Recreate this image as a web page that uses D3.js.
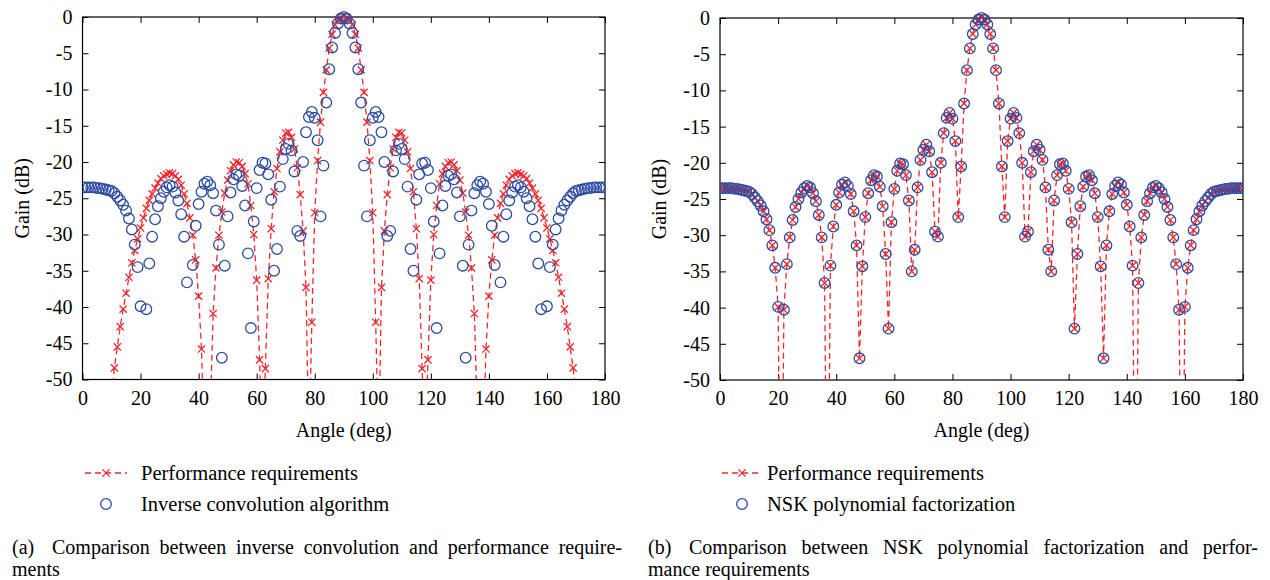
<!DOCTYPE html>
<html>
<head>
<meta charset="utf-8">
<script src="https://cdn.jsdelivr.net/npm/d3@7"></script>
<style>
  body { margin: 0; background: #fff; }
  text { font-family: "Liberation Serif", "Times New Roman", serif; fill: #000; }
</style>
</head>
<body>
<div class="box"></div>
<script>
// angles 0..180 deg, one point per degree
const angles = d3.range(0, 181);

// Gain (dB) of the inverse convolution / NSK result (blue circles), -80 = below the plot
const gainAlgo = [
  -23.5, -23.5, -23.5, -23.5, -23.5, -23.6, -23.6, -23.7, -23.8, -23.9,
  -24.0, -24.3, -24.8, -25.3, -25.9, -26.7, -27.8, -29.3, -31.4, -34.5,
  -39.9, -80, -40.3, -34.0, -30.3, -27.9, -26.1, -25.0, -24.1, -23.5,
  -23.2, -23.4, -24.2, -25.3, -27.2, -30.3, -36.6, -80, -34.2, -28.8,
  -25.8, -24.1, -23.0, -22.7, -23.2, -24.3, -26.7, -31.4, -47.0, -34.3,
  -27.5, -24.2, -22.4, -21.7, -21.9, -23.3, -26.0, -32.6, -42.9, -28.2,
  -23.6, -21.1, -20.1, -20.2, -21.7, -25.2, -35.0, -32.0, -23.4, -19.6,
  -18.2, -17.5, -18.4, -21.3, -29.5, -30.2, -20.0, -15.9, -13.8, -13.1,
  -13.9, -17.0, -27.5, -20.5, -11.8, -7.2, -4.2, -2.2, -0.9, -0.2,
  0,
  -0.2, -0.9, -2.2, -4.2, -7.2, -11.8, -20.5, -27.5, -17.0, -13.9,
  -13.1, -13.8, -15.9, -20.0, -30.2, -29.5, -21.3, -18.4, -17.5, -18.2,
  -19.6, -23.4, -32.0, -35.0, -25.2, -21.7, -20.2, -20.1, -21.1, -23.6,
  -28.2, -42.9, -32.6, -26.0, -23.3, -21.9, -21.7, -22.4, -24.2, -27.5,
  -34.3, -47.0, -31.4, -26.7, -24.3, -23.2, -22.7, -23.0, -24.1, -25.8,
  -28.8, -34.2, -80, -36.6, -30.3, -27.2, -25.3, -24.2, -23.4, -23.2,
  -23.5, -24.1, -25.0, -26.1, -27.9, -30.3, -34.0, -40.3, -80, -39.9,
  -34.5, -31.4, -29.3, -27.8, -26.7, -25.9, -25.3, -24.8, -24.3, -24.0,
  -23.9, -23.8, -23.7, -23.6, -23.6, -23.5, -23.5, -23.5, -23.5, -23.5
];

// performance requirements of panel (a), null = not drawn
const gainReqA = [
  null, null, null, null, null, null, null, null, null, null,
  -52, -48.4, -45.5, -42.7, -40.3, -38.1, -35.9, -33.9, -32.2, -30.6,
  -29.1, -27.7, -26.4, -25.3, -24.4, -23.6, -22.9, -22.3, -21.9, -21.7,
  -21.5, -21.6, -21.9, -22.4, -23.2, -24.4, -25.7, -27.7, -30.1, -33.5,
  -38.5, -45.8, -60, -62, -55, -40.9, -34.6, -30.1, -26.9, -24.3,
  -22.5, -21.2, -20.4, -20.0, -20.1, -20.6, -21.6, -23.0, -26.0, -30.0,
  -36.3, -47.3, -60, -48.5, -36.1, -29.2, -24.1, -20.9, -18.6, -17.0,
  -16.0, -15.9, -16.6, -18.2, -20.8, -24.5, -29.5, -37.3, -60, -42.1,
  -27.0, -19.8, -14.5, -10.4, -7.3, -4.3, -2.4, -1.1, -0.4, -0.1,
  0,
  -0.1, -0.4, -1.1, -2.4, -4.3, -7.3, -10.4, -14.5, -19.8, -27.0,
  -42.1, -60, -37.3, -29.5, -24.5, -20.8, -18.2, -16.6, -15.9, -16.0,
  -17.0, -18.6, -20.9, -24.1, -29.2, -36.1, -48.5, -60, -47.3, -36.3,
  -30.0, -26.0, -23.0, -21.6, -20.6, -20.1, -20.0, -20.4, -21.2, -22.5,
  -24.3, -26.9, -30.1, -34.6, -40.9, -55, -62, -60, -45.8, -38.5,
  -33.5, -30.1, -27.7, -25.7, -24.4, -23.2, -22.4, -21.9, -21.6, -21.5,
  -21.7, -21.9, -22.3, -22.9, -23.6, -24.4, -25.3, -26.4, -27.7, -29.1,
  -30.6, -32.2, -33.9, -35.9, -38.1, -40.3, -42.7, -45.5, -48.4, -52,
  null, null, null, null, null, null, null, null, null, null
];

// panel (b): the requirements coincide with the NSK result
const gainReqB = gainAlgo.slice();

const xTicks = [0, 20, 40, 60, 80, 100, 120, 140, 160, 180];
const yTicks = [0, -5, -10, -15, -20, -25, -30, -35, -40, -45, -50];

const RED = '#f2262b';
const BLUE = '#2c4ba3';
const xPath = 'M-3.6,-3.6L3.6,3.6M-3.6,3.6L3.6,-3.6';

const svg = d3.select('.box')
              .append('svg')
              .attr('width', 1270)
              .attr('height', 580)
              .style('background', '#fff');

const defs = svg.append('defs');

const panel = (id, box, req, algo, legendX, legendTextX, names, caption) => {

    const x = d3.scaleLinear().domain([0, 180]).range([box.left, box.right]);
    const y = d3.scaleLinear().domain([-50, 0]).range([box.bottom, box.top]);

    defs.append('clipPath').attr('id', id)
        .append('rect')
        .attr('x', box.left).attr('y', box.top - 6)
        .attr('width', box.right - box.left).attr('height', box.bottom - box.top + 6);

    const g = svg.append('g');

    // axes, ticks inward on all sides
    const axB = g.append('g').attr('transform', `translate(0, ${box.bottom})`)
        .call(d3.axisBottom(x).tickValues(xTicks).tickSize(-6).tickPadding(11).tickFormat(d => String(d)));
    const axT = g.append('g').attr('transform', `translate(0, ${box.top})`)
        .call(d3.axisTop(x).tickValues(xTicks).tickSize(-6).tickFormat(''));
    const axL = g.append('g').attr('transform', `translate(${box.left}, 0)`)
        .call(d3.axisLeft(y).tickValues(yTicks).tickSize(-6).tickPadding(10).tickFormat(d => String(d)));
    const axR = g.append('g').attr('transform', `translate(${box.right}, 0)`)
        .call(d3.axisRight(y).tickValues(yTicks).tickSize(-6).tickFormat(''));

    [axB, axT, axL, axR].forEach(a => {
        a.select('.domain').remove();
        a.selectAll('line').attr('stroke', '#000').attr('stroke-width', 1);
        a.selectAll('text').style('font-family', '"Liberation Serif", serif').style('font-size', '20px').attr('fill', '#000');
    });

    g.append('rect')
     .attr('x', box.left).attr('y', box.top)
     .attr('width', box.right - box.left).attr('height', box.bottom - box.top)
     .attr('fill', 'none').attr('stroke', '#000').attr('stroke-width', 1.2);

    // axis titles
    g.append('text')
     .attr('x', (box.left + box.right) / 2).attr('y', 437)
     .attr('text-anchor', 'middle').style('font-size', '20px')
     .text('Angle (deg)');
    g.append('text')
     .attr('transform', `translate(${box.left - 54}, ${(box.top + box.bottom) / 2}) rotate(-90)`)
     .attr('text-anchor', 'middle').style('font-size', '20px')
     .text('Gain (dB)');

    const plot = g.append('g').attr('clip-path', `url(#${id})`);

    const reqPts = angles.map((a, i) => ({a: a, v: req[i]}));
    const algoPts = angles.map((a, i) => ({a: a, v: algo[i]}));

    const line = d3.line()
                   .defined(d => d.v !== null)
                   .x(d => x(d.a))
                   .y(d => y(d.v));

    plot.append('path')
        .datum(reqPts)
        .attr('d', line)
        .attr('fill', 'none')
        .attr('stroke', RED)
        .attr('stroke-width', 1.3)
        .attr('stroke-dasharray', '6,4');

    plot.selectAll('.xm')
        .data(reqPts.filter(d => d.v !== null && d.v >= -50.5))
        .enter()
        .append('path')
        .attr('d', xPath)
        .attr('transform', d => `translate(${x(d.a)}, ${y(d.v)})`)
        .attr('stroke', RED)
        .attr('stroke-width', 1.3)
        .attr('fill', 'none');

    plot.selectAll('.cm')
        .data(algoPts.filter(d => d.v >= -50.5))
        .enter()
        .append('circle')
        .attr('cx', d => x(d.a))
        .attr('cy', d => y(d.v))
        .attr('r', 5.3)
        .attr('fill', 'none')
        .attr('stroke', BLUE)
        .attr('stroke-width', 1.3);

    // legend
    const lg = svg.append('g');
    lg.append('line')
      .attr('x1', legendX[0]).attr('x2', legendX[1])
      .attr('y1', 473).attr('y2', 473)
      .attr('stroke', RED).attr('stroke-width', 1.3).attr('stroke-dasharray', '6,4');
    lg.append('path')
      .attr('d', xPath)
      .attr('transform', `translate(${(legendX[0] + legendX[1]) / 2}, 473)`)
      .attr('stroke', RED).attr('stroke-width', 1.3);
    lg.append('circle')
      .attr('cx', (legendX[0] + legendX[1]) / 2).attr('cy', 504).attr('r', 5.3)
      .attr('fill', 'none').attr('stroke', BLUE).attr('stroke-width', 1.3);
    lg.append('text').attr('x', legendTextX).attr('y', 480).style('font-size', '20.5px').text(names[0]);
    lg.append('text').attr('x', legendTextX).attr('y', 511).style('font-size', '20.5px').text(names[1]);

    // caption: label, then a first line justified by spreading the spaces
    svg.append('text')
       .attr('x', caption.x).attr('y', 554)
       .style('font-size', '20px')
       .text(caption.label);
    const c1 = svg.append('text')
                  .attr('x', caption.textX).attr('y', 554)
                  .style('font-size', '20px')
                  .style('word-spacing', '0px')
                  .text(caption.lines[0]);
    const natural = c1.node().getComputedTextLength();
    const spaces = (caption.lines[0].match(/ /g) || []).length;
    c1.style('word-spacing', Math.max(0, (caption.end - caption.textX - natural) / spaces) + 'px');
    svg.append('text')
       .attr('x', caption.x).attr('y', 576)
       .style('font-size', '20px')
       .text(caption.lines[1]);
}

panel('clipA', {left: 82.5, right: 605, top: 17, bottom: 379.5},
      gainReqA, gainAlgo, [85, 127], 141,
      ['Performance requirements', 'Inverse convolution algorithm'],
      {x: 12, textX: 52, end: 622, label: '(a)',
       lines: ['Comparison between inverse convolution and performance require-', 'ments']});

panel('clipB', {left: 720, right: 1243, top: 18, bottom: 380},
      gainReqB, gainAlgo, [722, 762], 767,
      ['Performance requirements', 'NSK polynomial factorization'],
      {x: 648, textX: 689, end: 1258, label: '(b)',
       lines: ['Comparison between NSK polynomial factorization and perfor-', 'mance requirements']});
</script>
</body>
</html>
